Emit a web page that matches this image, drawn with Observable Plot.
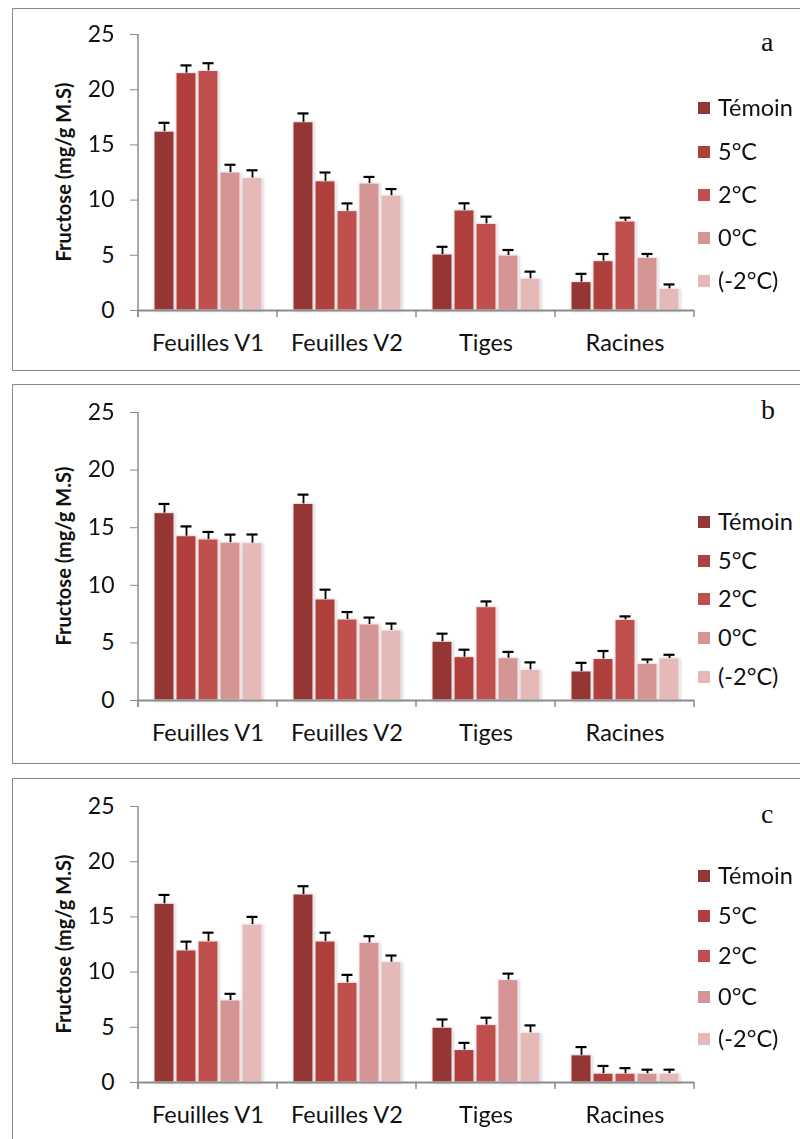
<!DOCTYPE html>
<html>
<head>
<meta charset="utf-8">
<script src="https://cdn.jsdelivr.net/npm/d3@7"></script>
<script src="https://cdn.jsdelivr.net/npm/@observablehq/plot@0.6"></script>
<style>
  html, body { margin: 0; padding: 0; background: #fff; }
  #page { position: relative; width: 800px; height: 1139px; overflow: hidden; font-family: Lato, "Open Sans", sans-serif; }
  .panel { position: absolute; left: 12px; width: 800px; border: 1.5px solid #8a8a8a; box-sizing: border-box; }
  .plotwrap { position: absolute; left: 0; }
  .letter { position: absolute; font-family: "Liberation Serif", "DejaVu Serif", serif; font-size: 28px; color: #111; }
  .ytitle { position: absolute; font-family: Lato, sans-serif; font-weight: bold; font-size: 20px; color: #111; transform: translate(-50%, -50%) rotate(-90deg); white-space: nowrap; }
  .leg { position: absolute; left: 698px; font-size: 23.5px; line-height: 28px; color: #111; white-space: nowrap; }
  .leg span.sw { display: inline-block; width: 12px; height: 12px; margin-right: 8px; vertical-align: middle; position: relative; top: -2px; }
</style>
</head>
<body>
<div id="page"></div>
<script>
const cats = ["Feuilles V1", "Feuilles V2", "Tiges", "Racines"];
const series = ["Témoin", "5°C", "2°C", "0°C", "(-2°C)"];
const colors = ["#943634", "#b0403e", "#c0504d", "#d59594", "#e5b9b8"];
const yTicks = [0, 5, 10, 15, 20, 25];

// Panel a (values per category, in series order)
const valuesA = [
  [16.2, 21.5, 21.7, 12.5, 12.0],
  [17.05, 11.7, 9.0, 11.5, 10.4],
  [5.07, 9.06, 7.85, 4.98, 2.87],
  [2.57, 4.47, 8.06, 4.77, 1.96]
];
const errorsA = [
  [0.8, 0.7, 0.7, 0.7, 0.7],
  [0.8, 0.8, 0.7, 0.6, 0.6],
  [0.7, 0.65, 0.65, 0.5, 0.65],
  [0.75, 0.65, 0.35, 0.35, 0.4]
];
// Panel b
const valuesB = [
  [16.26, 14.26, 13.98, 13.7, 13.66],
  [17.07, 8.77, 7.03, 6.6, 6.08],
  [5.1, 3.76, 8.1, 3.67, 2.66],
  [2.52, 3.6, 7.0, 3.18, 3.65]
];
const errorsB = [
  [0.8, 0.85, 0.65, 0.7, 0.75],
  [0.8, 0.85, 0.65, 0.6, 0.6],
  [0.7, 0.65, 0.5, 0.55, 0.65],
  [0.75, 0.7, 0.3, 0.38, 0.32]
];
// Panel c
const valuesC = [
  [16.19, 11.96, 12.77, 7.43, 14.3],
  [17.03, 12.77, 9.03, 12.65, 10.9],
  [4.96, 2.94, 5.2, 9.28, 4.5],
  [2.46, 0.8, 0.8, 0.8, 0.8]
];
const errorsC = [
  [0.8, 0.8, 0.8, 0.6, 0.7],
  [0.75, 0.8, 0.72, 0.6, 0.6],
  [0.75, 0.65, 0.67, 0.58, 0.67],
  [0.75, 0.7, 0.5, 0.36, 0.36]
];

const panels = [
  {letter: "a", values: valuesA, errors: errorsA, boxTop: 8, boxH: 363, svgTop: 8, height: 362, mt: 26, mb: 60, letterTop: 26, legY: [108, 152, 195, 238, 281]},
  {letter: "b", values: valuesB, errors: errorsB, boxTop: 384, boxH: 380, svgTop: 384, height: 379, mt: 28, mb: 63, letterTop: 394, legY: [522, 561, 599, 638, 677]},
  {letter: "c", values: valuesC, errors: errorsC, boxTop: 778, boxH: 400, svgTop: 778, height: 361, mt: 28, mb: 57, letterTop: 798, legY: [876, 916, 956, 997, 1039]}
];

const page = document.getElementById("page");

for (const p of panels) {
  const rows = [];
  cats.forEach((c, i) => series.forEach((s, j) => rows.push({cat: c, s, v: p.values[i][j], e: p.errors[i][j]})));

  const box = document.createElement("div");
  box.className = "panel";
  box.style.top = p.boxTop + "px";
  box.style.height = p.boxH + "px";
  page.appendChild(box);

  const plot = Plot.plot({
    width: 800,
    height: p.height,
    marginLeft: 138,
    marginRight: 106,
    marginTop: p.mt,
    marginBottom: p.mb,
    style: {fontFamily: "Lato, sans-serif", fontSize: "23px", color: "#111", background: "transparent", overflow: "visible"},
    fx: {domain: cats, padding: 0, label: null, axis: null},
    x: {domain: series, paddingInner: 0.11, paddingOuter: 0.7, axis: null},
    y: {domain: [0, 25], axis: null},
    color: {domain: series, range: colors},
    marks: [
      Plot.barY(rows, {fx: "cat", x: "s", y: "v", fill: "s", stroke: "#fbefef", strokeWidth: 1}),
      Plot.ruleX(rows, {fx: "cat", x: "s", y1: "v", y2: d => d.v + d.e, stroke: "#000", strokeWidth: 1.8}),
      Plot.tickY(rows, {fx: "cat", x: "s", y: d => d.v + d.e, stroke: "#000", strokeWidth: 2.2, insetLeft: 4.5, insetRight: 4.5}),
      Plot.ruleY([0], {stroke: "#8c8c8c", strokeWidth: 2}),
      Plot.axisY({ticks: yTicks, tickSize: 8, tickPadding: 16, stroke: "#8c8c8c", fill: "#111", label: null, fontSize: 23}),
      Plot.axisFx({anchor: "bottom", tickSize: 0, tickPadding: 24, label: null, fontSize: 23.5, fill: "#111"})
    ]
  });

  // extra axis lines drawn from the library's scales
  const fx = plot.scale("fx");
  const y = plot.scale("y");
  const svg = d3.select(plot);
  svg.selectAll("g[aria-label='bar']").style("filter", "drop-shadow(1px 1px 1.5px rgba(110,130,150,0.35))");
  const y0 = y.apply(0), y25 = y.apply(25);
  const g = svg.append("g").attr("stroke", "#8c8c8c");
  const xLeft = fx.apply(cats[0]);
  g.append("line").attr("x1", xLeft).attr("x2", xLeft).attr("y1", y25).attr("y2", y0 + 7).attr("stroke-width", 1.5);
  const bounds = cats.map(c => fx.apply(c)).concat([fx.apply(cats[cats.length - 1]) + fx.bandwidth]);
  bounds.forEach(bx => g.append("line").attr("x1", bx).attr("x2", bx).attr("y1", y0).attr("y2", y0 + 7).attr("stroke-width", 1.5));

  const wrap = document.createElement("div");
  wrap.className = "plotwrap";
  wrap.style.top = p.svgTop + "px";
  wrap.appendChild(plot);
  page.appendChild(wrap);

  // y title
  const yt = document.createElement("div");
  yt.className = "ytitle";
  yt.textContent = "Fructose (mg/g M.S)";
  yt.style.left = "63px";
  yt.style.top = (p.svgTop + (y0 + y25) / 2) + "px";
  page.appendChild(yt);

  // panel letter
  const lt = document.createElement("div");
  lt.className = "letter";
  lt.textContent = p.letter;
  lt.style.left = "761px";
  lt.style.top = p.letterTop + "px";
  page.appendChild(lt);

  // legend
  series.forEach((s, j) => {
    const d = document.createElement("div");
    d.className = "leg";
    d.style.top = (p.legY[j] - 15) + "px";
    d.innerHTML = `<span class="sw" style="background:${colors[j]}"></span>${s}`;
    page.appendChild(d);
  });
}
</script>
</body>
</html>
